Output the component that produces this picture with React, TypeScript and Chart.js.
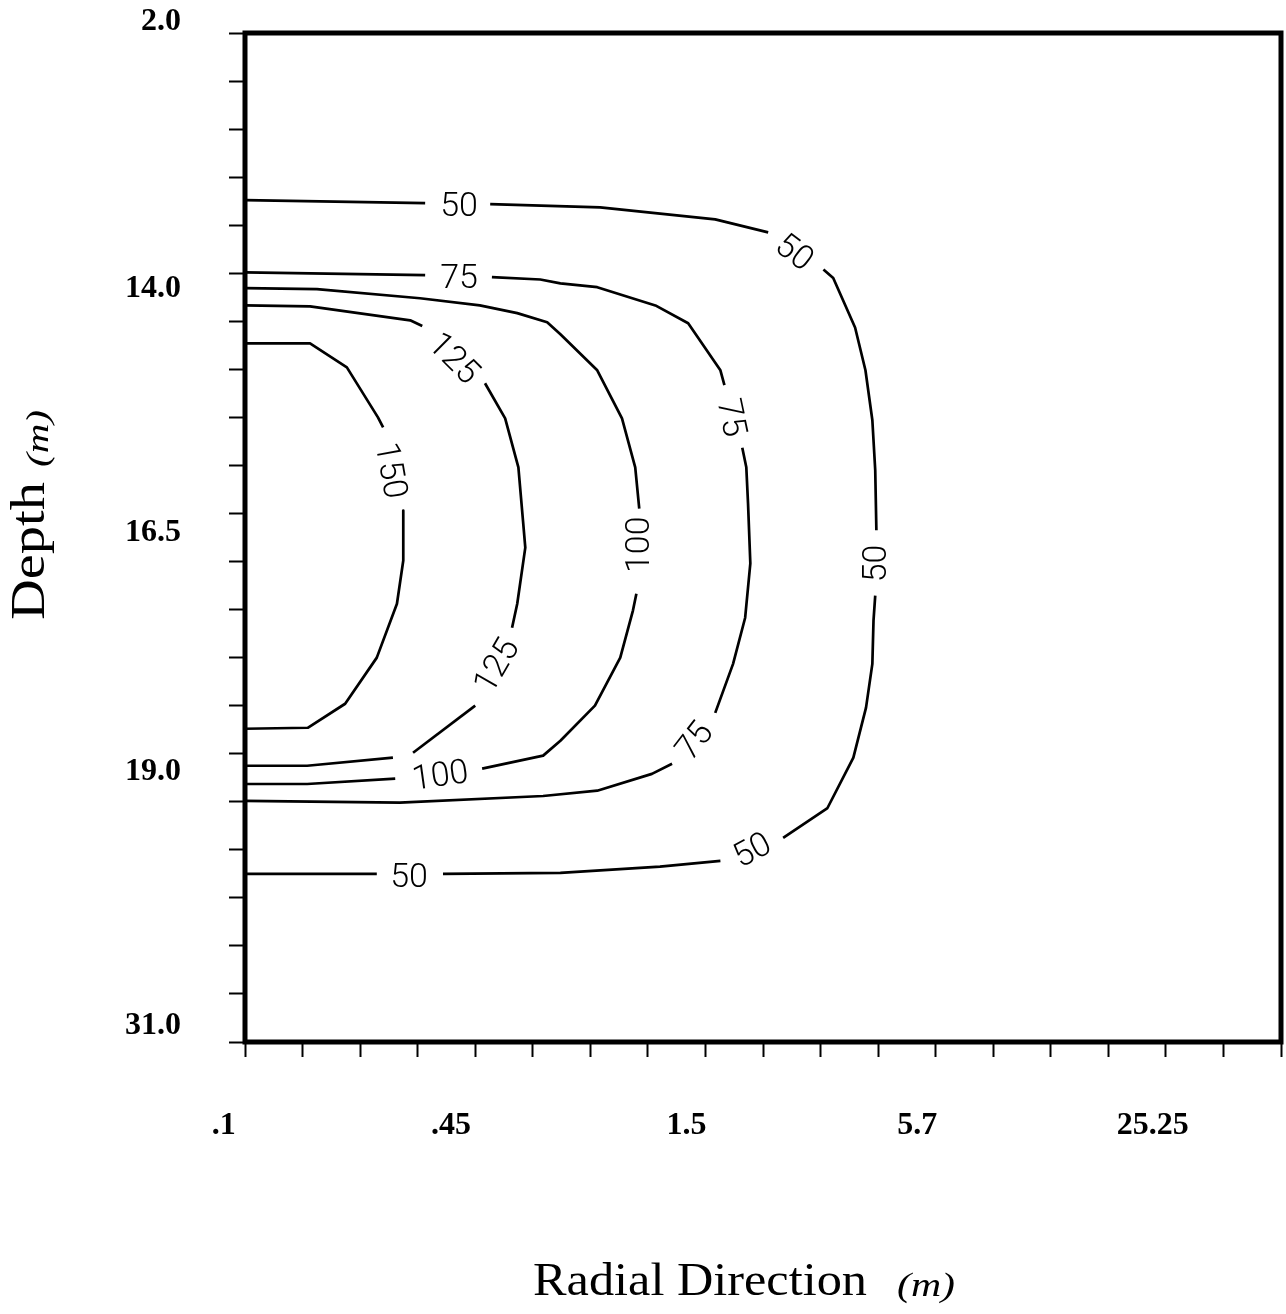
import React, { useEffect, useRef } from "react";
import { Chart, registerables } from "chart.js";

Chart.register(...registerables);

type Pt = [number, number];

// Grid positions of the axis tick marks (node index along each axis)
const xTickIndex: number[] = [0, 1, 2, 3, 4, 5, 6, 7, 8, 9, 10, 11, 12, 13, 14, 15, 16, 17, 18];
const yTickIndex: number[] = [0, 1, 2, 3, 4, 5, 6, 7, 8, 9, 10, 11, 12, 13, 14, 15, 16, 17, 18, 19, 20, 21];

// Axis label values (as placed in the original) and their texts
const xLabelValues: number[] = [-0.37, 3.58, 7.67, 11.68, 15.77];
const xLabelTexts: string[] = [".1", ".45", "1.5", "5.7", "25.25"];
const yLabelValues: number[] = [-0.23, 5.33, 10.4, 15.38, 20.67];
const yLabelTexts: string[] = ["2.0", "14.0", "16.5", "19.0", "31.0"];

// Contour lines, in grid units (x: radial node, y: depth node), split where labels sit
const contour50: Pt[][] = [
  [[0, 3.48], [3.13, 3.54]],
  [[4.26, 3.56], [6.17, 3.63], [8.17, 3.88], [9.09, 4.15]],
  [[10.05, 4.92], [10.22, 5.1], [10.6, 6.13], [10.78, 7.02], [10.9, 8.06], [10.95, 9.1], [10.97, 10.35]],
  [[10.95, 11.71], [10.92, 12.23], [10.9, 13.13], [10.79, 14.04], [10.57, 15.08], [10.12, 16.13], [9.35, 16.75]],
  [[8.26, 17.23], [7.21, 17.35], [5.48, 17.48], [3.44, 17.5]],
  [[2.29, 17.5], [0, 17.5]],
];
const contour75: Pt[][] = [
  [[0, 4.98], [3.13, 5.04]],
  [[4.29, 5.08], [5.13, 5.13], [5.48, 5.21], [6.12, 5.29], [7.13, 5.67], [7.7, 6.04], [8.26, 7.02], [8.33, 7.33]],
  [[8.64, 8.63], [8.71, 9.04], [8.74, 9.79], [8.78, 11.04], [8.69, 12.17], [8.48, 13.13], [8.17, 14.15]],
  [[7.42, 15.21], [7.07, 15.42], [6.12, 15.77], [5.18, 15.88], [2.69, 16.02], [0, 15.98]],
];
const contour100: Pt[][] = [
  [[0, 5.31], [1.25, 5.33], [3.04, 5.52], [4.08, 5.67], [4.73, 5.83], [5.25, 6.02], [5.48, 6.27], [6.12, 7.02], [6.55, 8.02], [6.78, 9.04], [6.85, 9.9]],
  [[6.8, 11.67], [6.74, 12.02], [6.52, 13.0], [6.08, 14.0], [5.48, 14.73], [5.18, 15.04], [4.12, 15.31]],
  [[2.61, 15.52], [1.08, 15.63], [0, 15.63]],
];
const contour125: Pt[][] = [
  [[0, 5.67], [1.13, 5.69], [2.87, 5.98], [3.08, 6.1]],
  [[4.17, 7.29], [4.52, 8.02], [4.75, 9.04], [4.83, 10.15], [4.87, 10.71], [4.73, 11.88], [4.64, 12.38]],
  [[4.0, 14.0], [2.92, 14.98]],
  [[2.57, 15.08], [1.08, 15.25], [0, 15.25]],
];
const contour150: Pt[][] = [
  [[0, 6.46], [1.13, 6.46], [1.77, 6.96], [2.31, 8.0], [2.4, 8.21]],
  [[2.75, 9.94], [2.75, 10.98], [2.64, 11.88], [2.29, 13.0], [1.74, 13.96], [1.09, 14.46], [0, 14.48]],
];

// Contour labels
const labelTexts: string[] = ["50", "50", "50", "50", "50", "75", "75", "75", "100", "100", "125", "125", "150"];
const labelX: number[] = [3.72, 9.56, 10.93, 8.8, 2.85, 3.72, 8.48, 7.79, 6.81, 3.39, 3.65, 4.35, 2.56];
const labelY: number[] = [3.56, 4.54, 11.04, 16.98, 17.52, 5.06, 8.0, 14.71, 10.65, 15.42, 6.75, 13.15, 9.1];
const labelAngles: number[] = [0, 37, -90, -28, 0, 0, 78, -52, -90, -8, 45, -60, 80];

const allContours: Pt[][][] = [contour50, contour75, contour100, contour125, contour150];

const TICK_FONT = { family: "'Liberation Serif', 'Times New Roman', serif", size: 32, weight: "bold" as const };

const overlayPlugin = {
  id: "overlay",
  afterDraw(chart: any) {
    const { ctx, chartArea: a, scales } = chart;
    const xs = scales.x;
    const ys = scales.y;
    ctx.save();
    // frame
    ctx.strokeStyle = "#000";
    ctx.lineWidth = 5;
    ctx.lineJoin = "miter";
    ctx.strokeRect(a.left, a.top, a.right - a.left, a.bottom - a.top);

    // contour labels
    ctx.fillStyle = "#000";
    ctx.font = "300 34px Roboto, 'Liberation Sans', sans-serif";
    ctx.textAlign = "center";
    ctx.textBaseline = "alphabetic";
    labelTexts.forEach((t, i) => {
      const px = xs.getPixelForValue(labelX[i]);
      const py = ys.getPixelForValue(labelY[i]);
      ctx.save();
      ctx.translate(px, py);
      ctx.rotate((labelAngles[i] * Math.PI) / 180);
      const m = ctx.measureText(t);
      ctx.fillText(t, 0, m.actualBoundingBoxAscent / 2);
      ctx.restore();
    });

    // axis titles
    const drawFit = (text: string, font: string, len: number) => {
      ctx.font = font;
      const w = ctx.measureText(text).width;
      ctx.scale(len / w, 1);
      ctx.fillText(text, 0, 0);
    };
    ctx.textAlign = "left";
    ctx.textBaseline = "alphabetic";

    // Y title: "Depth (m)" rotated
    ctx.save();
    ctx.translate(44, 620);
    ctx.rotate(-Math.PI / 2);
    drawFit("Depth", "48px 'Liberation Serif', serif", 138);
    ctx.restore();
    ctx.save();
    ctx.translate(48, 467);
    ctx.rotate(-Math.PI / 2);
    drawFit("(m)", "italic 31px 'Liberation Serif', serif", 57);
    ctx.restore();

    // X title
    ctx.save();
    ctx.translate(533, 1295);
    drawFit("Radial Direction", "46px 'Liberation Serif', serif", 334);
    ctx.restore();
    ctx.save();
    ctx.translate(897, 1296);
    drawFit("(m)", "italic 34px 'Liberation Serif', serif", 58);
    ctx.restore();

    ctx.restore();
  },
};

export default function App() {
  const canvasRef = useRef<HTMLCanvasElement | null>(null);

  useEffect(() => {
    if (!canvasRef.current) return;
    const datasets: any[] = [];
    allContours.forEach((segs) => {
      segs.forEach((seg) => {
        datasets.push({
          data: seg.map(([x, y]) => ({ x, y })),
          showLine: true,
          borderColor: "#000",
          borderWidth: 2.7,
          pointRadius: 0,
          pointHoverRadius: 0,
          fill: false,
          tension: 0,
          borderJoinStyle: "round",
          borderCapStyle: "butt",
        });
      });
    });

    const chart = new Chart(canvasRef.current, {
      type: "scatter",
      data: { datasets },
      options: {
        animation: false,
        responsive: true,
        maintainAspectRatio: false,
        events: [],
        layout: { padding: { top: 33, right: 5, left: 0, bottom: 0 } },
        plugins: { legend: { display: false }, tooltip: { enabled: false }, title: { display: false } },
        scales: {
          x: {
            type: "linear",
            position: "bottom",
            min: 0,
            max: 18,
            afterBuildTicks: (s: any) => {
              s.ticks = [...xTickIndex, ...xLabelValues].map((v) => ({ value: v }));
            },
            afterFit: (s: any) => {
              s.height = 272;
              s.paddingLeft = 0;
              s.paddingRight = 0;
            },
            ticks: {
              autoSkip: false,
              maxRotation: 0,
              minRotation: 0,
              padding: 50,
              color: "#000",
              font: TICK_FONT,
              callback: (v: any) => {
                const i = xLabelValues.indexOf(Number(v));
                return i >= 0 ? xLabelTexts[i] : "";
              },
            },
            grid: {
              drawOnChartArea: false,
              drawTicks: true,
              tickLength: 15,
              tickWidth: 2,
              tickColor: (c: any) => (c.tick && xTickIndex.includes(c.tick.value) ? "#000" : "rgba(0,0,0,0)"),
            },
            border: { display: false },
          },
          y: {
            type: "linear",
            position: "left",
            min: 0,
            max: 21,
            reverse: true,
            afterBuildTicks: (s: any) => {
              s.ticks = [...yTickIndex, ...yLabelValues].map((v) => ({ value: v }));
            },
            afterFit: (s: any) => {
              s.width = 245;
              s.paddingTop = 0;
              s.paddingBottom = 0;
            },
            ticks: {
              autoSkip: false,
              padding: 48,
              color: "#000",
              font: TICK_FONT,
              callback: (v: any) => {
                const i = yLabelValues.indexOf(Number(v));
                return i >= 0 ? yLabelTexts[i] : "";
              },
            },
            grid: {
              drawOnChartArea: false,
              drawTicks: true,
              tickLength: 16,
              tickWidth: 2,
              tickColor: (c: any) => (c.tick && yTickIndex.includes(c.tick.value) ? "#000" : "rgba(0,0,0,0)"),
            },
            border: { display: false },
          },
        },
      } as any,
      plugins: [overlayPlugin],
    });
    return () => chart.destroy();
  }, []);

  return (
    <div style={{ position: "absolute", left: 0, top: 0, width: 1286, height: 1314, background: "#fff" }}>
      <canvas ref={canvasRef} />
    </div>
  );
}
